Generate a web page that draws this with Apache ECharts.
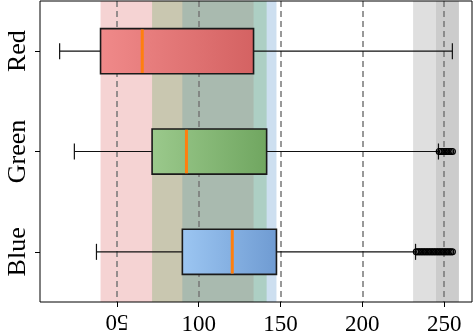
<!DOCTYPE html>
<html>
<head>
<meta charset="utf-8">
<script src="https://cdn.jsdelivr.net/npm/echarts@6/dist/echarts.min.js"></script>
<style>html,body{margin:0;padding:0;background:#fff}#c{width:473px;height:331px}</style>
</head>
<body>
<div id="c"></div>
<script>
// ---- data ----
const categories = ['Red', 'Green', 'Blue'];
// [low whisker, Q1, median, Q3, high whisker]
const redStats   = [15, 40, 65.5, 133.5, 255];
const greenStats = [24, 71.5, 92.5, 141.5, 246.5];
const blueStats  = [37.5, 90, 120.5, 147.5, 232.5];
const greenOutliers = [247, 248, 249, 250, 251, 252, 253, 254, 255];
const blueOutliers = [233, 234, 235, 236, 237, 238, 239, 240, 241, 242, 243, 244, 245, 246, 247, 248, 249, 250, 251, 252, 253, 254, 255];
// shaded ranges
const redSpan = [40, 133.5];
const greenSpan = [71.5, 141.5];
const blueSpan = [90, 147.5];
const outlierSpanWide = [231, 259];
const outlierSpanNarrow = [245, 259];
const xTicks = [50, 100, 150, 200, 250];
const xMin = 3, xMax = 267;

// ---- styles ----
const boxGrad = [
  ['#f08a8a', '#d46262'],
  ['#9bc98c', '#70a660'],
  ['#9cc6f2', '#6f9bd2']
];
const font = 'Liberation Serif';

const statsList = [redStats, greenStats, blueStats];
const boxData = statsList.map((s, i) => [i].concat(s));

function renderBox(params, api) {
  const ci = api.value(0);
  const pLow = api.coord([api.value(1), ci]);
  const pQ1 = api.coord([api.value(2), ci]);
  const pMed = api.coord([api.value(3), ci]);
  const pQ3 = api.coord([api.value(4), ci]);
  const pHigh = api.coord([api.value(5), ci]);
  const band = api.size([0, 1])[1];
  const h = band * 0.45;
  const capH = band * 0.16;
  const y = pLow[1];
  const lineStyle = { stroke: '#111', lineWidth: 1.2 };
  const g = boxGrad[ci];
  return {
    type: 'group',
    children: [
      { type: 'line', shape: { x1: pLow[0], y1: y, x2: pQ1[0], y2: y }, style: lineStyle },
      { type: 'line', shape: { x1: pQ3[0], y1: y, x2: pHigh[0], y2: y }, style: lineStyle },
      { type: 'line', shape: { x1: pLow[0], y1: y - capH / 2, x2: pLow[0], y2: y + capH / 2 }, style: lineStyle },
      { type: 'line', shape: { x1: pHigh[0], y1: y - capH / 2, x2: pHigh[0], y2: y + capH / 2 }, style: lineStyle },
      {
        type: 'rect',
        shape: { x: pQ1[0], y: y - h / 2, width: pQ3[0] - pQ1[0], height: h },
        style: {
          fill: new echarts.graphic.LinearGradient(0, 0, 1, 0, [
            { offset: 0, color: g[0] }, { offset: 1, color: g[1] }
          ]),
          stroke: '#1a1a1a', lineWidth: 1.6
        }
      },
      { type: 'line', shape: { x1: pMed[0], y1: y - h / 2 + 0.8, x2: pMed[0], y2: y + h / 2 - 0.8 }, style: { stroke: '#ff7f0e', lineWidth: 3 } }
    ]
  };
}

const outlierData = greenOutliers.map(v => [v, 1]).concat(blueOutliers.map(v => [v, 2]));

const chart = echarts.init(document.getElementById('c'), null, { renderer: 'canvas' });
chart.setOption({
  animation: false,
  grid: { left: 40, right: 1, top: 1, bottom: 29, outerBoundsMode: 'none', containLabel: false, show: true, borderColor: '#000', borderWidth: 1, backgroundColor: 'transparent', z: 10 },
  xAxis: [{
    type: 'value', min: xMin, max: xMax,
    axisLine: { show: false },
    axisTick: { show: true, inside: false, length: 5, lineStyle: { color: '#000', width: 1 }, customValues: xTicks },
    axisLabel: { customValues: xTicks.slice(1), fontFamily: font, fontSize: 23, color: '#000', margin: 11 },
    splitLine: { show: false }
  }, {
    type: 'value', min: xMin, max: xMax, position: 'bottom',
    axisLine: { show: false }, axisTick: { show: false },
    axisLabel: { customValues: [xTicks[0]], rotate: 180, fontFamily: font, fontSize: 23, color: '#000', margin: 8 },
    splitLine: { show: false }
  }],
  yAxis: {
    type: 'category', data: categories, inverse: true,
    axisLine: { show: false },
    axisTick: { show: true, alignWithLabel: true, length: 5, lineStyle: { color: '#000' } },
    axisLabel: { rotate: 90, fontFamily: font, fontSize: 26, color: '#000', margin: 9 },
    splitLine: { show: false }
  },
  series: [{
    type: 'line', data: [], z: 1,
    markArea: {
      silent: true, z: 1,
      data: [
        [{ xAxis: redSpan[0], itemStyle: { color: 'rgba(222,108,108,0.3)' } }, { xAxis: redSpan[1] }],
        [{ xAxis: blueSpan[0], itemStyle: { color: 'rgba(88,148,205,0.3)' } }, { xAxis: blueSpan[1] }],
        [{ xAxis: greenSpan[0], itemStyle: { color: 'rgba(98,168,94,0.3)' } }, { xAxis: greenSpan[1] }],
        [{ xAxis: outlierSpanWide[0], itemStyle: { color: 'rgba(128,128,128,0.25)' } }, { xAxis: outlierSpanWide[1] }],
        [{ xAxis: outlierSpanNarrow[0], itemStyle: { color: 'rgba(128,128,128,0.2)' } }, { xAxis: outlierSpanNarrow[1] }]
      ]
    },
    markLine: {
      silent: true, z: 1.5, symbol: 'none', label: { show: false },
      lineStyle: { color: '#777', width: 1.5, type: [6, 4] },
      data: xTicks.map(v => ({ xAxis: v }))
    }
  }, {
    type: 'custom', z: 2,
    renderItem: renderBox,
    encode: { x: [1, 2, 3, 4, 5], y: 0 },
    data: boxData
  }, {
    type: 'scatter', z: 3,
    symbol: 'circle', symbolSize: 6,
    itemStyle: { color: 'rgba(255,255,255,0)', borderColor: '#000', borderWidth: 1.2, opacity: 1 },
    data: outlierData
  }]
});
</script>
</body>
</html>
